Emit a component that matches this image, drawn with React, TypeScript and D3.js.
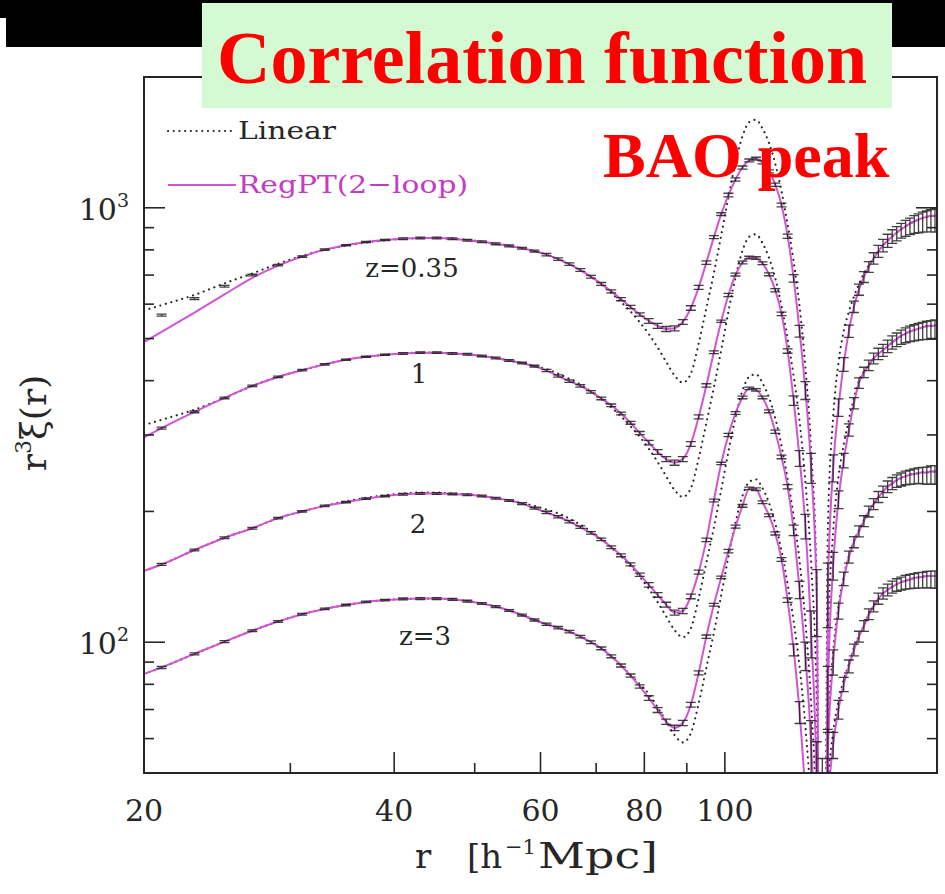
import React from "react";
import * as d3 from "d3";

// Separation grid (h^-1 Mpc) shared by the Linear and RegPT curves
const radius = [20,
  21, 23, 25, 27, 29, 31, 33, 35, 37, 39,
  41, 43, 45, 47, 49, 51, 53, 55, 57, 59,
  61, 63, 65, 67, 69, 71, 73, 75, 77, 79,
  81, 83, 85, 87, 89, 91, 93, 95, 97, 99,
  101, 103, 105, 107, 109, 111, 113, 115, 117, 119,
  121, 123, 125, 127, 129, 131, 133, 135, 137, 139,
  141, 143, 145, 147, 149, 151, 153, 155, 157, 159,
  161, 163, 165, 167, 169, 171, 173, 175, 177, 179,
  180];

// |r^3 xi(r)| for each redshift
const linearZ035 = [580,
  597, 630, 670, 706, 743, 775, 800, 818, 832, 841,
  848, 851, 852, 849, 844, 836, 827, 817, 807, 795,
  780, 762, 742, 719, 694, 666, 637, 607, 577, 545,
  512, 477, 442, 411, 396, 415, 487, 588, 708, 865,
  1060, 1270, 1462, 1575, 1595, 1522, 1410, 1262, 1092, 915,
  752, 592, 430, 278, 133, 0, 180, 330, 440, 520,
  577, 625, 668, 706, 738, 767, 794, 819, 840, 859,
  877, 893, 906, 919, 930, 939, 947, 953, 957, 959,
  960];
const regptZ035 = [491,
  518, 574, 632, 690, 736, 772, 801, 820, 834, 843,
  849, 852, 852, 849, 842, 835, 826, 817, 807, 795,
  780, 762, 742, 719, 694, 668, 642, 616, 591, 568,
  549, 535, 526, 528, 546, 588, 656, 748, 856, 967,
  1070, 1162, 1238, 1285, 1297, 1272, 1213, 1130, 1015, 860,
  688, 520, 380, 252, 125, 0, 130, 252, 347, 436,
  520, 592, 648, 693, 731, 765, 794, 819, 840, 859,
  877, 893, 906, 919, 930, 939, 947, 953, 957, 959,
  960];

const linearZ1 = [316,
  325, 343, 365, 389, 408, 423, 436, 447, 454, 459,
  462, 464, 464, 462, 460, 456, 451, 445, 439, 432,
  425, 415, 404, 392, 378, 363, 347, 331, 314, 297,
  279, 260, 241, 224, 216, 226, 265, 320, 386, 471,
  578, 692, 797, 858, 869, 829, 768, 688, 595, 499,
  410, 323, 234, 152, 72, 0, 98, 180, 240, 285,
  325, 365, 400, 420, 434, 450, 461, 470, 480, 490,
  499, 507, 513, 519, 523, 527, 531, 534, 535, 536,
  537];
const regptZ1 = [296,
  311, 339, 365, 389, 408, 423, 436, 447, 454, 459,
  462, 464, 464, 462, 460, 456, 451, 445, 439, 432,
  422, 410, 399, 389, 377, 364, 351, 336, 320, 303,
  288, 274, 264, 259, 264, 286, 330, 390, 465, 548,
  630, 702, 748, 768, 766, 745, 703, 646, 570, 468,
  360, 265, 185, 105, 45, 0, 75, 150, 213, 262,
  308, 355, 395, 418, 434, 450, 461, 470, 480, 490,
  499, 507, 513, 519, 523, 527, 531, 534, 535, 536,
  537];

const linearZ2 = [146,
  151, 163, 174, 183, 193, 200, 206, 211, 215, 218,
  220, 221, 221, 220, 219, 217, 214.5, 212, 209, 206,
  202, 198, 192.5, 186.5, 180, 173, 165, 157.5, 149.7, 141.4,
  132.8, 123.7, 114.7, 106.6, 102.7, 107.7, 126.3, 152.5, 183.7, 224.4,
  275, 329.4, 379.2, 408.6, 413.7, 394.8, 365.8, 327.4, 283.3, 237.4,
  195, 153.6, 111.5, 72.1, 34.5, 0, 60, 95, 121, 142,
  158, 171, 181, 191, 200, 208, 216, 222, 228, 232,
  236, 239, 241, 243, 244, 245, 246, 246, 247, 247,
  247];
const regptZ2 = [146,
  151, 163, 174, 183, 193, 200, 206, 210, 214, 217,
  219, 220, 220, 219.5, 218.5, 217, 214.5, 212, 208.5, 203.5,
  199, 194.5, 189.5, 184, 178.5, 172.5, 165.5, 158.5, 151, 143,
  135.5, 128.5, 122, 117, 118, 127.5, 145, 172, 212, 258,
  300, 337, 366, 384, 381, 366, 340, 305, 267, 228,
  181, 132, 93, 58, 25, 0, 55, 90, 118, 140,
  157, 170, 180, 190, 200, 208, 216, 222, 228, 232,
  236, 239, 241, 243, 244, 245, 246, 246, 247, 247,
  247];

const linearZ3 = [84.5,
  87.5, 94, 100.3, 106.3, 111.6, 116, 119.3, 121.8, 123.8, 125,
  125.8, 126, 126, 125.5, 124.3, 122.8, 120.8, 118.3, 115.5, 112.5,
  110, 108, 105.8, 103, 100, 96.8, 92.8, 88.4, 84, 80,
  76, 70.9, 65.7, 61.1, 58.8, 61.7, 72.4, 87.4, 105.2, 128.5,
  157.5, 188.7, 217.3, 234, 237, 226.2, 209.5, 187.5, 162.3, 136,
  111.7, 88, 63.9, 41.3, 19.8, 0, 45, 62, 73, 82,
  89, 97, 103.5, 109, 116, 121, 126, 129.5, 132, 134,
  136, 137.5, 138.5, 139.5, 140.5, 141, 141.5, 142, 142, 142,
  142];
const regptZ3 = [84.5,
  87.5, 94, 100.3, 106.3, 111.6, 116, 119.3, 121.8, 123.8, 125,
  125.8, 126, 126, 125.5, 124.3, 122.8, 120.8, 118.3, 115.5, 112.5,
  110, 108, 105.8, 103, 100, 96.8, 92.8, 88.4, 83.8, 79.1,
  74.4, 69.8, 65.6, 63.5, 65.2, 71.8, 85, 103, 122, 141,
  162, 184.5, 206, 226, 225, 210, 196, 178, 155, 125,
  96, 69, 44, 22, 6, 0, 40, 58, 70, 80,
  88, 96, 103, 109, 116, 121, 126, 129.5, 132, 134,
  136, 137.5, 138.5, 139.5, 140.5, 141, 141.5, 142, 142, 142,
  142];

// N-body measurements (bin centres) with 1-sigma errors
const nbodyRadius = [
  21, 23, 25, 27, 29, 31, 33, 35, 37, 39,
  41, 43, 45, 47, 49, 51, 53, 55, 57, 59,
  61, 63, 65, 67, 69, 71, 73, 75, 77, 79,
  81, 83, 85, 87, 89, 91, 93, 95, 97, 99,
  101, 103, 105, 107, 109, 111, 113, 115, 117, 119,
  121, 123, 125, 127, 129, 131, 133, 135, 137, 139,
  141, 143, 145, 147, 149, 151, 153, 155, 157, 159,
  161, 163, 165, 167, 169, 171, 173, 175, 177, 179];

const nbodyZ035 = [
  566, 618, 660, 700, 738, 772, 801, 820, 834, 843,
  849, 852, 852, 849, 842, 835, 826, 817, 807, 795,
  780, 762, 742, 719, 694, 668, 642, 616, 591, 568,
  549, 535, 526, 528, 546, 588, 656, 748, 856, 967,
  1070, 1162, 1238, 1285, 1297, 1272, 1213, 1130, 1015, 860,
  688, 520, 380, 252, 125, 30, 130, 252, 347, 436,
  520, 592, 648, 693, 731, 765, 794, 819, 840, 859,
  872, 886, 897, 907, 916, 922, 928, 932, 935, 937];
const nbodyErrZ035 = [
  3, 3, 3, 3, 3, 3, 3, 3, 3, 3,
  4, 4, 4, 4, 4, 4, 4, 4, 4, 4,
  5, 5, 5, 5, 5, 5, 5, 5, 5, 5,
  7, 7, 7, 7, 7, 7, 7, 7, 7, 7,
  10, 10, 10, 10, 10, 10, 10, 10, 10, 10,
  14, 16, 18, 20, 22, 24, 22, 18, 16, 16,
  17, 18, 19, 20, 21, 23, 25, 27, 29, 31,
  33, 35, 38, 40, 43, 46, 49, 52, 55, 58];

const nbodyZ1 = [
  311, 339, 365, 389, 408, 423, 436, 447, 454, 459,
  462, 464, 464, 462, 460, 456, 451, 445, 439, 432,
  422, 410, 399, 389, 377, 364, 351, 336, 320, 303,
  288, 274, 264, 259, 264, 286, 330, 390, 465, 548,
  630, 702, 748, 768, 766, 745, 703, 646, 570, 468,
  360, 265, 185, 105, 45, 15, 75, 150, 213, 262,
  308, 355, 395, 418, 434, 450, 461, 470, 480, 490,
  497, 504, 509, 513, 516, 519, 521, 523, 524, 525];
const nbodyErrZ1 = [
  1.6, 1.6, 1.6, 1.6, 1.6, 1.6, 1.6, 1.6, 1.6, 1.6,
  2, 2, 2, 2, 2, 2, 2, 2, 2, 2,
  2.5, 2.5, 2.5, 2.5, 2.5, 2.5, 2.5, 2.5, 2.5, 2.5,
  3.5, 3.5, 3.5, 3.5, 3.5, 3.5, 3.5, 3.5, 3.5, 3.5,
  5.5, 5.5, 5.5, 5.5, 5.5, 5.5, 5.5, 5.5, 5.5, 5.5,
  9, 11, 12, 13, 14, 14, 13, 11, 10, 10,
  10, 10.5, 11, 11.5, 12, 13, 14, 15, 16, 17,
  18, 19, 20, 21, 22, 23, 24, 25, 26, 27];

const nbodyZ2 = [
  151, 163, 174, 183, 193, 200, 206, 210, 214, 217,
  219, 220, 220, 219.5, 218.5, 217, 214.5, 212, 208.5, 203.5,
  199, 194.5, 189.5, 184, 178.5, 172.5, 165.5, 158.5, 151, 143,
  135.5, 128.5, 122, 117, 118, 127.5, 145, 172, 212, 258,
  300, 337, 366, 384, 381, 366, 340, 305, 267, 228,
  181, 132, 93, 58, 25, 5, 55, 90, 118, 140,
  157, 170, 180, 190, 200, 208, 216, 222, 228, 232,
  235, 237, 239, 240, 241, 242, 242, 242, 243, 243];
const nbodyErrZ2 = [
  0.8, 0.8, 0.8, 0.8, 0.8, 0.8, 0.8, 0.8, 0.8, 0.8,
  1, 1, 1, 1, 1, 1, 1, 1, 1, 1,
  1.2, 1.2, 1.2, 1.2, 1.2, 1.2, 1.2, 1.2, 1.2, 1.2,
  1.6, 1.6, 1.6, 1.6, 1.6, 1.6, 1.6, 1.6, 1.6, 1.6,
  2.6, 2.6, 2.6, 2.6, 2.6, 2.6, 2.6, 2.6, 2.6, 2.6,
  5, 6, 7, 8, 9, 9, 8, 6, 5, 5,
  5, 5, 5.2, 5.5, 5.8, 6, 6.3, 6.6, 7, 7.4,
  7.8, 8.2, 8.6, 9, 9.5, 10, 10.5, 11, 11.5, 12];

const nbodyZ3 = [
  87.5, 94, 100.3, 106.3, 111.6, 116, 119.3, 121.8, 123.8, 125,
  125.8, 126, 126, 125.5, 124.3, 122.8, 120.8, 118.3, 115.5, 112.5,
  110, 108, 105.8, 103, 100, 96.8, 92.8, 88.4, 83.8, 79.1,
  74.4, 69.8, 65.6, 63.5, 65.2, 71.8, 85, 103, 122, 141,
  162, 184.5, 206, 226, 225, 210, 196, 178, 155, 125,
  96, 69, 44, 22, 6, 3, 40, 58, 70, 80,
  88, 96, 103, 109, 116, 121, 126, 129.5, 132, 134,
  135.5, 136.5, 137.5, 138, 138.5, 139, 139, 139.5, 139.5, 139.5];
const nbodyErrZ3 = [
  0.5, 0.5, 0.5, 0.5, 0.5, 0.5, 0.5, 0.5, 0.5, 0.5,
  0.6, 0.6, 0.6, 0.6, 0.6, 0.6, 0.6, 0.6, 0.6, 0.6,
  0.7, 0.7, 0.7, 0.7, 0.7, 0.7, 0.7, 0.7, 0.7, 0.7,
  0.9, 0.9, 0.9, 0.9, 0.9, 0.9, 0.9, 0.9, 0.9, 0.9,
  1.5, 1.5, 1.5, 1.5, 1.5, 1.5, 1.5, 1.5, 1.5, 1.5,
  3, 4, 5, 6, 6, 6, 5, 4, 3.5, 3,
  3, 3, 3, 3.1, 3.3, 3.5, 3.7, 3.9, 4.1, 4.3,
  4.5, 4.7, 5, 5.2, 5.4, 5.6, 5.8, 6, 6.2, 6.5];

const redshiftLabels = ["z=0.35", "1", "2", "z=3"];
const xMajorTicks = [20, 40, 60, 80, 100];
const xMinorTicks = [30, 50, 70, 90];
const yMajorTicks = [100, 1000];
const yMinorTicks = [60, 70, 80, 90, 200, 300, 400, 500, 600, 700, 800, 900];
const legendLabels = ["Linear", "RegPT(2\u2212loop)"];

const series = [
  { linear: linearZ035, regpt: regptZ035, nbody: nbodyZ035, err: nbodyErrZ035 },
  { linear: linearZ1, regpt: regptZ1, nbody: nbodyZ1, err: nbodyErrZ1 },
  { linear: linearZ2, regpt: regptZ2, nbody: nbodyZ2, err: nbodyErrZ2 },
  { linear: linearZ3, regpt: regptZ3, nbody: nbodyZ3, err: nbodyErrZ3 },
];

const W = 945;
const H = 894;
const M = { left: 144, right: 937, top: 77, bottom: 773 };
const MAGENTA = "#d254d2";
const INK = "#262626";
const SERIF = "'DejaVu Serif', serif";
const TITLE_FONT = "'Liberation Serif', 'Times New Roman', serif";
const CAP = 5;

export default function App() {
  const x = d3.scaleLog().domain([20, 180]).range([M.left, M.right]);
  const y = d3.scaleLog().domain([50, 2000]).range([M.bottom, M.top]);

  const line = d3
    .line<number>()
    .x((_, i) => x(radius[i]))
    .y((v) => y(Math.max(v, 1)))
    .curve(d3.curveMonotoneX);

  const errorBars = (vals: number[], errs: number[]) => {
    let p = "";
    vals.forEach((v, i) => {
      if (v <= 0) return;
      const cx = x(nbodyRadius[i]);
      const lo = y(Math.max(v - errs[i], 1));
      const hi = y(v + errs[i]);
      p += `M${cx.toFixed(2)},${lo.toFixed(2)}V${hi.toFixed(2)}`;
      p += `M${(cx - CAP).toFixed(2)},${lo.toFixed(2)}h${2 * CAP}`;
      p += `M${(cx - CAP).toFixed(2)},${hi.toFixed(2)}h${2 * CAP}`;
    });
    return p;
  };

  const labelPos = [
    { x: 412, y: 277 },
    { x: 419, y: 383 },
    { x: 418, y: 533 },
    { x: 425, y: 645 },
  ];

  return (
    <svg
      width={W}
      height={H}
      viewBox={`0 0 ${W} ${H}`}
      style={{ position: "absolute", left: 0, top: 0, display: "block", background: "#fff" }}
    >
      <defs>
        <clipPath id="plot-area">
          <rect x={M.left} y={M.top} width={M.right - M.left} height={M.bottom - M.top} />
        </clipPath>
      </defs>
      <rect x={0} y={0} width={W} height={H} fill="#fff" />

      {/* curves */}
      <g clipPath="url(#plot-area)">
        {series.map((s, k) => (
          <path
            key={`lin${k}`}
            d={line(s.linear) ?? ""}
            fill="none"
            stroke={INK}
            strokeWidth={2.1}
            strokeDasharray="0.1 5.6"
            strokeLinecap="round"
          />
        ))}
        {series.map((s, k) => (
          <path key={`reg${k}`} d={line(s.regpt) ?? ""} fill="none" stroke={MAGENTA} strokeWidth={2} />
        ))}
        {series.map((s, k) => (
          <path
            key={`nb${k}`}
            d={errorBars(s.nbody, s.err)}
            fill="none"
            stroke="#1e1e1e"
            strokeOpacity={0.85}
            strokeWidth={1.3}
          />
        ))}
      </g>

      {/* frame and ticks */}
      <rect
        x={M.left}
        y={M.top}
        width={M.right - M.left}
        height={M.bottom - M.top}
        fill="none"
        stroke={INK}
        strokeWidth={2}
      />
      <g stroke={INK} strokeWidth={1.6}>
        {xMajorTicks.map((t) => (
          <g key={`xM${t}`}>
            <line x1={x(t)} x2={x(t)} y1={M.bottom} y2={M.bottom - 21} />
            <line x1={x(t)} x2={x(t)} y1={M.top} y2={M.top + 21} />
          </g>
        ))}
        {xMinorTicks.map((t) => (
          <g key={`xm${t}`}>
            <line x1={x(t)} x2={x(t)} y1={M.bottom} y2={M.bottom - 10} />
            <line x1={x(t)} x2={x(t)} y1={M.top} y2={M.top + 10} />
          </g>
        ))}
        {yMajorTicks.map((t) => (
          <g key={`yM${t}`}>
            <line x1={M.left} x2={M.left + 21} y1={y(t)} y2={y(t)} />
            <line x1={M.right} x2={M.right - 21} y1={y(t)} y2={y(t)} />
          </g>
        ))}
        {yMinorTicks.map((t) => (
          <g key={`ym${t}`}>
            <line x1={M.left} x2={M.left + 10} y1={y(t)} y2={y(t)} />
            <line x1={M.right} x2={M.right - 10} y1={y(t)} y2={y(t)} />
          </g>
        ))}
      </g>

      {/* tick labels */}
      <g fontFamily={SERIF} fill={INK}>
        {xMajorTicks.map((t) => (
          <text key={`xl${t}`} x={x(t)} y={821} fontSize={30} textAnchor="middle">
            {t}
          </text>
        ))}
        {yMajorTicks.map((t) => (
          <text key={`yl${t}`} x={129} y={y(t) + 12} fontSize={30} textAnchor="end">
            10
            <tspan fontSize={19} dy={-13}>
              {Math.round(Math.log10(t))}
            </tspan>
          </text>
        ))}
      </g>

      {/* axis titles */}
      <text fontFamily={SERIF} fill={INK} fontSize={34} y={868}>
        <tspan x={415}>r</tspan>
        <tspan x={467}>[h</tspan>
        <tspan x={505} dy={-14} fontSize={21}>
          {"\u22121"}
        </tspan>
      </text>
      <text
        fontFamily={SERIF}
        fill={INK}
        fontSize={35}
        x={538}
        y={868}
        textLength={120}
        lengthAdjust="spacingAndGlyphs"
      >
        Mpc]
      </text>
      <text
        fontFamily={SERIF}
        fill={INK}
        fontSize={36}
        textAnchor="middle"
        transform="translate(46,423) rotate(-90)"
      >
        r<tspan fontSize={22} dy={-15}>3</tspan>
        <tspan dy={15}>{"\u03be(r)"}</tspan>
      </text>

      {/* redshift labels */}
      <g fontFamily={SERIF} fill={INK} fontSize={26} textAnchor="middle">
        {redshiftLabels.map((t, i) => (
          <text key={t} x={labelPos[i].x} y={labelPos[i].y}>
            {t}
          </text>
        ))}
      </g>

      {/* legend */}
      <line
        x1={168}
        x2={236}
        y1={131}
        y2={131}
        stroke={INK}
        strokeWidth={2.1}
        strokeDasharray="0.1 5.6"
        strokeLinecap="round"
      />
      <text x={238} y={139} fontFamily={SERIF} fontSize={25} fill={INK} textLength={98} lengthAdjust="spacingAndGlyphs">
        {legendLabels[0]}
      </text>
      <line x1={168} x2={236} y1={185} y2={185} stroke={MAGENTA} strokeWidth={2} />
      <text
        x={238}
        y={193}
        fontFamily={SERIF}
        fontSize={25}
        fill="#c43cc4"
        textLength={230}
        lengthAdjust="spacingAndGlyphs"
      >
        {legendLabels[1]}
      </text>

      {/* header band */}
      <rect x={0} y={0} width={W} height={47} fill="#000" />
      <rect x={0} y={18} width={6} height={29} fill="#fff" />
      <rect x={202} y={3} width={690} height={105} fill="#d3fad3" />
      <text x={217} y={83} fontFamily={TITLE_FONT} fontWeight="bold" fontSize={74} fill="#ff0000">
        Correlation function
      </text>
      <text x={603} y={177} fontFamily={TITLE_FONT} fontWeight="bold" fontSize={64} fill="#ff0000">
        BAO peak
      </text>
    </svg>
  );
}
